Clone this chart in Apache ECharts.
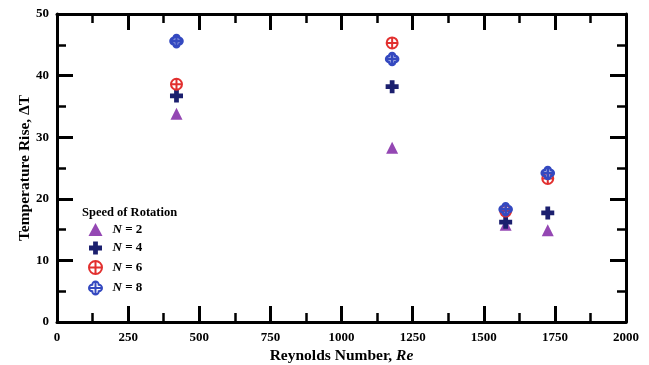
<!DOCTYPE html>
<html>
<head>
<meta charset="utf-8">
<script src="https://cdn.jsdelivr.net/npm/echarts@6/dist/echarts.min.js"></script>
<style>
    html, body { margin: 0; padding: 0; background: #fff; }
    #chart { width: 649px; height: 365px; }
</style>
</head>
<body>
<div id="chart"></div>
<script>
// Reynolds number of each test point
var reynolds = [420, 1178, 1577, 1725];
// temperature rise for each speed of rotation
var n2 = [33.8, 28.3, 15.8, 14.9];
var n4 = [36.7, 38.2, 16.2, 17.7];
var n6 = [38.6, 45.3, 18.0, 23.3];
var n8 = [45.6, 42.7, 18.3, 24.2];
var seriesNames = ['N = 2', 'N = 4', 'N = 6', 'N = 8'];

var FONT = '"Liberation Serif", "Times New Roman", serif';

// marker shapes
var plusPath = 'path://M-1.1,-3L1.1,-3L1.1,-1.1L3,-1.1L3,1.1L1.1,1.1L1.1,3L-1.1,3L-1.1,1.1L-3,1.1L-3,-1.1L-1.1,-1.1Z';
var circlePlusPath = 'path://M5,0A5,5,0,1,1,-5,0A5,5,0,1,1,5,0ZM0,-5L0,5M-5,0L5,0';
var quatrefoilPath = 'path://M-3,-3A3,3,0,0,1,3,-3A3,3,0,0,1,3,3A3,3,0,0,1,-3,3A3,3,0,0,1,-3,-3ZM0,-6L0,6M-6,0L6,0';

function pairs(vals) {
    return reynolds.map(function (x, i) { return [x, vals[i]]; });
}

var myChart = echarts.init(document.getElementById('chart'));

var tickAxisBase = {
    axisLine: { show: true, onZero: false, lineStyle: { color: '#000', width: 3 } },
    axisTick: { show: true, inside: true, length: 16, lineStyle: { color: '#000', width: 3 } },
    minorTick: { show: true, splitNumber: 2, length: 9, lineStyle: { color: '#000', width: 2.5 } },
    splitLine: { show: false }
};

var option = {
    animation: false,
    backgroundColor: '#fff',
    grid: { left: 57, right: 23, top: 14, bottom: 43, outerBoundsMode: 'none' },
    title: {
        text: 'Speed of Rotation',
        left: 82,
        top: 206,
        padding: 0,
        textStyle: { fontFamily: FONT, fontWeight: 'bold', fontSize: 12.5, color: '#000' }
    },
    legend: {
        orient: 'vertical',
        left: 88,
        top: 223,
        padding: 0,
        itemGap: 5.5,
        itemWidth: 14,
        itemHeight: 13,
        data: seriesNames,
        formatter: function (name) {
            return '{i|N}{b| = ' + name.split('= ')[1] + '}';
        },
        textStyle: {
            fontFamily: FONT,
            fontSize: 13,
            fontWeight: 'bold',
            color: '#000',
            padding: [0, 0, 0, 5],
            rich: {
                i: { fontFamily: FONT, fontSize: 13, fontWeight: 'bold', fontStyle: 'italic', color: '#000' },
                b: { fontFamily: FONT, fontSize: 13, fontWeight: 'bold', color: '#000' }
            }
        }
    },
    xAxis: [
        Object.assign({}, tickAxisBase, {
            type: 'value',
            min: 0,
            max: 2000,
            interval: 250,
            position: 'bottom',
            name: '{b|Reynolds Number, }{i|Re}',
            nameLocation: 'middle',
            nameMoveOverlap: false,
            nameGap: 26,
            nameTextStyle: {
                rich: {
                    b: { fontFamily: FONT, fontSize: 15.5, fontWeight: 'bold', color: '#000' },
                    i: { fontFamily: FONT, fontSize: 15.5, fontWeight: 'bold', fontStyle: 'italic', color: '#000' }
                }
            },
            axisLabel: {
                fontFamily: FONT, fontWeight: 'bold', fontSize: 13, color: '#000', margin: 9,
                formatter: function (v) { return String(v); }
            }
        }),
        Object.assign({}, tickAxisBase, {
            type: 'value',
            min: 0,
            max: 2000,
            interval: 250,
            position: 'top',
            axisLabel: { show: false }
        })
    ],
    yAxis: [
        Object.assign({}, tickAxisBase, {
            type: 'value',
            min: 0,
            max: 50,
            interval: 10,
            position: 'left',
            name: 'Temperature Rise, ΔT',
            nameLocation: 'middle',
            nameMoveOverlap: false,
            nameGap: 24,
            nameTextStyle: { fontFamily: FONT, fontSize: 15.5, fontWeight: 'bold', color: '#000' },
            axisLabel: {
                fontFamily: FONT, fontWeight: 'bold', fontSize: 13, color: '#000', margin: 8,
                formatter: function (v) { return String(v); }
            }
        }),
        Object.assign({}, tickAxisBase, {
            type: 'value',
            min: 0,
            max: 50,
            interval: 10,
            position: 'right',
            axisLabel: { show: false }
        })
    ],
    series: [
        {
            name: seriesNames[0],
            type: 'scatter',
            symbol: 'triangle',
            symbolSize: 12,
            itemStyle: { color: '#9447b3', opacity: 1 },
            data: pairs(n2)
        },
        {
            name: seriesNames[1],
            type: 'scatter',
            symbol: plusPath,
            symbolSize: 13,
            itemStyle: { color: '#1b1f6e', opacity: 1 },
            data: pairs(n4)
        },
        {
            name: seriesNames[2],
            type: 'scatter',
            symbol: circlePlusPath,
            symbolSize: 11,
            itemStyle: { color: 'rgba(255,255,255,0)', borderColor: '#e2302f', borderWidth: 2, opacity: 1 },
            data: pairs(n6)
        },
        {
            name: seriesNames[3],
            type: 'scatter',
            symbol: quatrefoilPath,
            symbolSize: 12,
            itemStyle: { color: 'rgba(255,255,255,0)', borderColor: '#3449c0', borderWidth: 2.6, opacity: 1 },
            data: pairs(n8)
        }
    ]
};

myChart.setOption(option);
</script>
</body>
</html>
